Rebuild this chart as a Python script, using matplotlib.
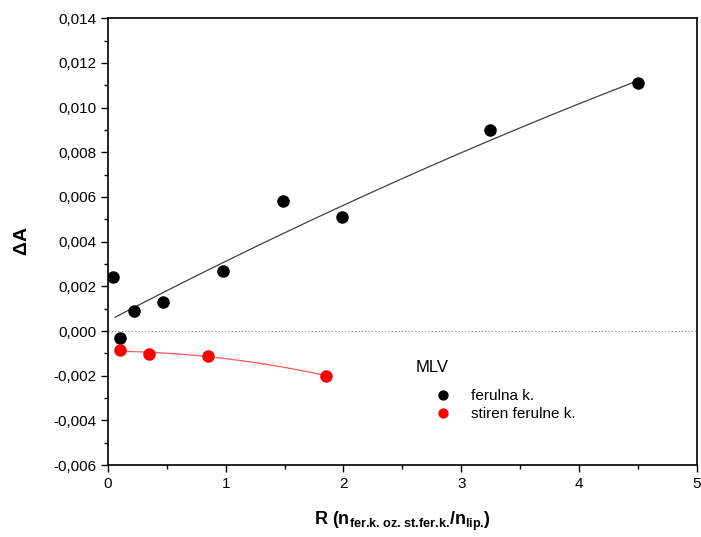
import numpy as np
import matplotlib
matplotlib.use('Agg')
import matplotlib.pyplot as plt
from matplotlib.ticker import MultipleLocator, FuncFormatter

plt.rcParams['font.family'] = ['Liberation Sans', 'DejaVu Sans']
plt.rcParams['mathtext.fontset'] = 'custom'
plt.rcParams['mathtext.rm'] = 'Liberation Sans:bold'
plt.rcParams['mathtext.bf'] = 'Liberation Sans:bold'

# ferulna k.
fer_x = [0.04, 0.10, 0.22, 0.47, 0.98, 1.49, 1.99, 3.24, 4.50]
fer_y = [0.0024, -0.0003, 0.0009, 0.0013, 0.0027, 0.0058, 0.0051, 0.0090, 0.0111]
# fit line (quadratic coeffs, highest power first)
fer_fit = [-0.00008, 0.00275, 0.00045]
fer_fit_range = [0.06, 4.5]
# stiren ferulne k.
sti_x = [0.10, 0.35, 0.85, 1.85]
sti_y = [-0.00085, -0.00105, -0.0011, -0.0020]

fig = plt.figure(figsize=(7.01, 5.37), dpi=100)
ax = fig.add_axes([0.154, 0.134, 0.840, 0.832])

# fitted curves
xx = np.linspace(fer_fit_range[0], fer_fit_range[1], 100)
ax.plot(xx, np.polyval(fer_fit, xx), color='#404040', lw=0.9)
c2 = np.polyfit(sti_x, sti_y, 2)
xx2 = np.linspace(sti_x[0], sti_x[-1], 100)
ax.plot(xx2, np.polyval(c2, xx2), color='#ff5a5a', lw=0.9)

ax.axhline(0, color='#808080', lw=0.8, ls=(0, (1, 2)))

ax.plot(fer_x, fer_y, 'o', color='black', ms=8, label='ferulna k.')
ax.plot(sti_x, sti_y, 'o', color='red', ms=8, label='stiren ferulne k.')

ax.set_xlim(0, 5)
ax.set_ylim(-0.006, 0.014)
ax.xaxis.set_major_locator(MultipleLocator(1))
ax.xaxis.set_minor_locator(MultipleLocator(0.5))
ax.yaxis.set_major_locator(MultipleLocator(0.002))
ax.yaxis.set_minor_locator(MultipleLocator(0.001))
ax.yaxis.set_major_formatter(FuncFormatter(lambda v, p: ('%.3f' % v).replace('.', ',').replace('-0,000', '0,000')))
ax.tick_params(which='major', length=5, width=1, labelsize=11)
ax.tick_params(which='minor', length=3, width=1)
for s in ax.spines.values():
    s.set_linewidth(1.2)

ax.set_ylabel(r'$\Delta$A', fontsize=14, fontweight='bold', labelpad=16)
ax.set_xlabel(r'R (n$_{\text{fer.k. oz. st.fer.k.}}$/n$_{\text{lip.}}$)', fontsize=13, fontweight='bold', labelpad=14)

leg = ax.legend(title='MLV', loc='upper left', bbox_to_anchor=(0.5, 0.265), frameon=False,
                fontsize=11, title_fontsize=12, handlelength=3.5, handletextpad=0.1,
                labelspacing=0.25, markerscale=0.8)
leg._legend_box.align = 'left'
leg._legend_box.sep = 10

fig.savefig('out.png', dpi=100)
